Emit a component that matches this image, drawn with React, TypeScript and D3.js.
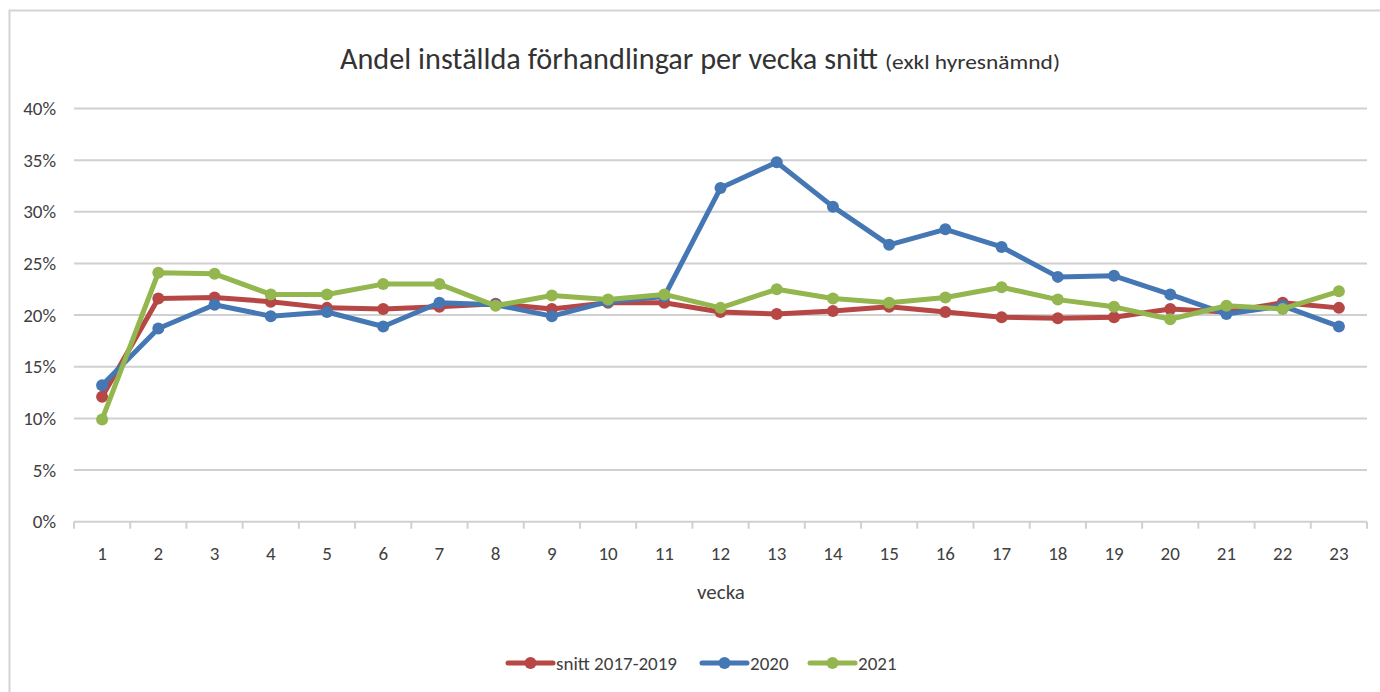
import { useMemo } from "react";
import * as d3 from "d3";

const weeks = d3.range(1, 24).map(String);

const snitt = [
  12.1, 21.6, 21.7, 21.3, 20.7, 20.6, 20.8, 21.1, 20.6, 21.2, 21.2, 20.3,
  20.1, 20.4, 20.8, 20.3, 19.8, 19.7, 19.8, 20.6, 20.3, 21.2, 20.7,
];
const y2020 = [
  13.2, 18.7, 21.0, 19.9, 20.3, 18.9, 21.2, 21.0, 19.9, 21.3, 21.8, 32.3,
  34.8, 30.5, 26.8, 28.3, 26.6, 23.7, 23.8, 22.0, 20.1, 20.9, 18.9,
];
const y2021 = [
  9.9, 24.1, 24.0, 22.0, 22.0, 23.0, 23.0, 20.9, 21.9, 21.5, 22.0, 20.7,
  22.5, 21.6, 21.2, 21.7, 22.7, 21.5, 20.8, 19.6, 20.9, 20.6, 22.3,
];

const yTicks = [0, 5, 10, 15, 20, 25, 30, 35, 40];

const seriesNames = ["snitt 2017-2019", "2020", "2021"];
const seriesColors = ["#b64744", "#4577b4", "#93b64f"];

const font = "Carlito, 'Open Sans', 'Liberation Sans', sans-serif";

export default function App() {
  const width = 1380;
  const height = 692;
  const margin = { left: 74, right: 13, top: 108.5, bottom: 170.3 };

  const x = useMemo(
    () =>
      d3
        .scaleBand<string>()
        .domain(weeks)
        .range([margin.left, width - margin.right]),
    []
  );
  const y = useMemo(
    () =>
      d3
        .scaleLinear()
        .domain([0, 40])
        .range([height - margin.bottom, margin.top]),
    []
  );

  const series = [snitt, y2020, y2021];
  const line = d3
    .line<number>()
    .x((_, i) => (x(weeks[i]) ?? 0) + x.bandwidth() / 2)
    .y((d) => y(d));

  const legendX = [508, 702, 810];

  return (
    <svg
      width={width}
      height={height}
      style={{ position: "absolute", left: 0, top: 0, background: "#fff" }}
      fontFamily={font}
    >
      <rect x={9.5} y={10.5} width={1380} height={700} fill="#fff" stroke="#d4d4d4" strokeWidth={2} />

      <text x={340} y={69} fill="#333" fontSize={30} textLength={538} lengthAdjust="spacingAndGlyphs">
        Andel inställda förhandlingar per vecka snitt
      </text>
      <text x={885} y={69} fill="#333" fontSize={21} textLength={175} lengthAdjust="spacingAndGlyphs">
        (exkl hyresnämnd)
      </text>

      {/* grid + y labels */}
      {yTicks.map((t) => (
        <g key={t}>
          <line
            x1={margin.left}
            x2={width - margin.right}
            y1={y(t)}
            y2={y(t)}
            stroke="#d0d0d0"
            strokeWidth={2}
          />
          <text
            x={56}
            y={y(t)}
            dy="0.35em"
            textAnchor="end"
            fontSize={19}
            fill="#404040"
          >
            {t}%
          </text>
        </g>
      ))}

      {/* x ticks */}
      {weeks.concat("end").map((w, i) => {
        const xx = margin.left + i * x.bandwidth();
        return (
          <line
            key={"t" + w}
            x1={xx}
            x2={xx}
            y1={y(0)}
            y2={y(0) + 7}
            stroke="#d0d0d0"
            strokeWidth={2}
          />
        );
      })}
      {weeks.map((w) => (
        <text
          key={"l" + w}
          x={(x(w) ?? 0) + x.bandwidth() / 2}
          y={560}
          textAnchor="middle"
          fontSize={19}
          fill="#404040"
        >
          {w}
        </text>
      ))}
      <text x={721} y={599} textAnchor="middle" fontSize={21} fill="#404040">
        vecka
      </text>

      {/* lines */}
      {series.map((s, si) => (
        <g key={si}>
          <path
            d={line(s) ?? ""}
            fill="none"
            stroke={seriesColors[si]}
            strokeWidth={5}
            strokeLinejoin="round"
          />
          {s.map((v, i) => (
            <circle
              key={i}
              cx={(x(weeks[i]) ?? 0) + x.bandwidth() / 2}
              cy={y(v)}
              r={6}
              fill={seriesColors[si]}
            />
          ))}
        </g>
      ))}

      {/* legend */}
      {seriesNames.map((n, i) => (
        <g key={n} transform={`translate(${legendX[i]},663)`}>
          <line x1={0} x2={45} y1={0} y2={0} stroke={seriesColors[i]} strokeWidth={5} strokeLinecap="round" />
          <circle cx={22.5} cy={0} r={6} fill={seriesColors[i]} />
          <text x={48} y={0} dy="0.35em" fontSize={19} fill="#404040">
            {n}
          </text>
        </g>
      ))}
    </svg>
  );
}
